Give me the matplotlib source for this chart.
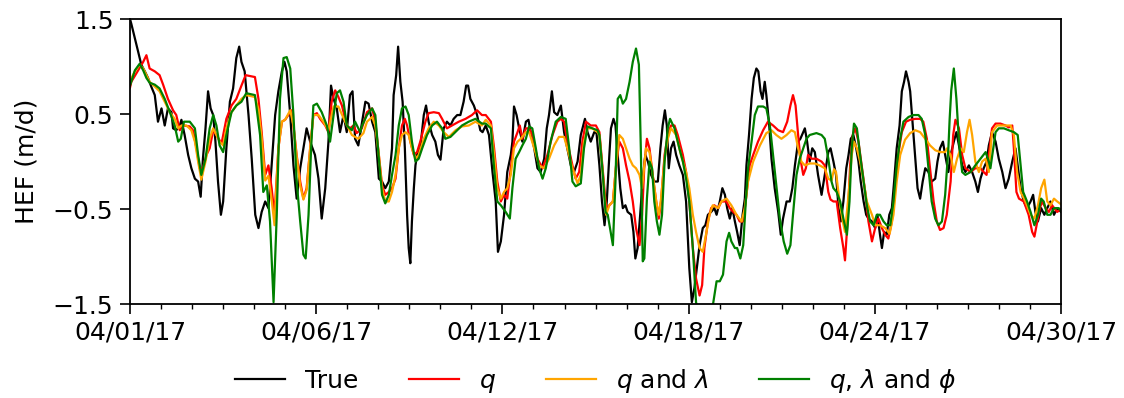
import pandas as pd
import matplotlib
matplotlib.use('Agg')
import matplotlib.pyplot as plt
import matplotlib.dates as mdates

# hourly HEF, true vs. three model variants (days since 04/01/17, value in m/d)
true_pts = [(0.00, 1.50), (0.04, 1.45), (0.15, 1.30), (0.25, 1.16), (0.35, 1.02), (0.46, 0.95), (0.56, 0.88),
            (0.66, 0.79), (0.77, 0.70), (0.87, 0.42), (0.98, 0.56), (1.08, 0.38), (1.18, 0.56), (1.29, 0.52),
            (1.34, 0.35), (1.44, 0.33), (1.55, 0.38), (1.60, 0.44), (1.70, 0.28), (1.81, 0.07), (1.91, -0.07),
            (2.02, -0.18), (2.12, -0.21), (2.20, -0.37), (2.27, 0.03), (2.35, 0.35), (2.43, 0.74), (2.51, 0.56),
            (2.59, 0.49), (2.66, 0.21), (2.74, -0.21), (2.83, -0.56), (2.90, -0.42), (3.00, 0.14), (3.11, 0.63),
            (3.21, 0.77), (3.31, 1.09), (3.40, 1.21), (3.47, 1.05), (3.57, 0.95), (3.69, 0.49), (3.79, 0.03),
            (3.90, -0.56), (4.00, -0.70), (4.10, -0.53), (4.21, -0.42), (4.31, -0.49), (4.41, -0.04), (4.52, 0.49),
            (4.62, 0.74), (4.73, 0.95), (4.81, 1.05), (4.88, 0.95), (4.99, 0.49), (5.09, -0.04), (5.19, -0.39),
            (5.30, -0.07), (5.40, 0.14), (5.50, 0.35), (5.61, 0.21), (5.76, 0.07), (5.87, -0.18), (5.97, -0.60),
            (6.08, -0.28), (6.18, 0.21), (6.26, 0.80), (6.34, 0.66), (6.44, 0.56), (6.54, 0.31), (6.65, 0.49),
            (6.75, 0.31), (6.85, 0.70), (6.93, 0.74), (7.01, 0.24), (7.11, 0.17), (7.22, 0.40), (7.33, 0.63),
            (7.43, 0.61), (7.54, 0.42), (7.64, 0.31), (7.75, -0.18), (7.85, -0.21), (7.95, -0.28), (8.06, -0.21),
            (8.16, 0.14), (8.21, 0.70), (8.29, 0.91), (8.35, 1.21), (8.42, 0.84), (8.49, 0.63), (8.56, 0.14),
            (8.63, -0.56), (8.68, -0.91), (8.73, -1.07), (8.78, -0.63), (8.84, -0.28), (8.89, -0.04), (8.94, 0.07),
            (9.04, 0.14), (9.15, 0.49), (9.22, 0.59), (9.30, 0.42), (9.41, 0.28), (9.51, 0.21), (9.59, 0.07),
            (9.67, 0.02), (9.77, 0.35), (9.87, 0.42), (9.98, 0.38), (10.08, 0.45), (10.19, 0.49), (10.29, 0.49),
            (10.39, 0.63), (10.47, 0.80), (10.53, 0.80), (10.60, 0.66), (10.71, 0.59), (10.81, 0.49), (10.91, 0.33),
            (10.98, 0.31), (11.08, 0.38), (11.18, 0.28), (11.29, -0.11), (11.39, -0.42), (11.46, -0.95),
            (11.55, -0.84), (11.65, -0.56), (11.75, -0.11), (11.86, 0.07), (11.91, 0.21), (11.96, 0.58),
            (12.04, 0.49), (12.12, 0.35), (12.22, 0.21), (12.33, 0.42), (12.41, 0.44), (12.48, 0.31), (12.59, 0.14),
            (12.69, -0.07), (12.79, -0.11), (12.90, 0.03), (12.98, 0.35), (13.05, 0.49), (13.14, 0.74),
            (13.21, 0.52), (13.31, 0.49), (13.42, 0.59), (13.52, 0.31), (13.62, 0.14), (13.73, -0.04),
            (13.83, -0.11), (13.94, 0.00), (14.04, 0.28), (14.17, 0.45), (14.25, 0.31), (14.35, 0.21),
            (14.46, 0.31), (14.53, 0.30), (14.62, -0.04), (14.70, -0.42), (14.78, -0.67), (14.85, -0.42),
            (14.93, 0.07), (14.98, 0.35), (15.06, 0.45), (15.12, 0.38), (15.19, 0.07), (15.27, -0.28),
            (15.35, -0.49), (15.43, -0.46), (15.50, -0.53), (15.61, -0.56), (15.68, -0.74), (15.74, -1.02),
            (15.81, -0.91), (15.89, -0.56), (15.97, -0.18), (16.05, 0.07), (16.13, 0.00), (16.23, -0.14),
            (16.33, -0.21), (16.44, -0.21), (16.52, 0.14), (16.59, 0.38), (16.66, 0.54), (16.72, 0.38),
            (16.78, -0.07), (16.85, 0.14), (16.93, 0.21), (17.01, 0.07), (17.11, -0.04), (17.22, -0.14),
            (17.32, -0.42), (17.42, -1.12), (17.50, -1.48), (17.58, -1.33), (17.63, -1.19), (17.74, -0.88),
            (17.84, -0.70), (17.92, -0.67), (18.00, -0.56), (18.10, -0.53), (18.20, -0.49), (18.27, -0.56),
            (18.37, -0.42), (18.45, -0.28), (18.53, -0.35), (18.60, -0.49), (18.68, -0.60), (18.76, -0.49),
            (18.84, -0.63), (18.91, -0.74), (18.99, -0.88), (19.08, -0.56), (19.15, -0.39), (19.20, -0.04),
            (19.28, 0.28), (19.36, 0.66), (19.43, 0.88), (19.51, 0.98), (19.57, 0.95), (19.64, 0.74),
            (19.70, 0.66), (19.77, 0.84), (19.82, 0.70), (19.91, 0.38), (19.98, 0.03), (20.08, -0.28),
            (20.19, -0.53), (20.27, -0.77), (20.34, -0.60), (20.45, -0.42), (20.55, -0.42), (20.63, -0.28),
            (20.71, -0.04), (20.81, 0.21), (20.88, 0.24), (20.97, 0.31), (21.02, 0.35), (21.09, 0.21),
            (21.17, 0.00), (21.25, 0.14), (21.33, 0.10), (21.43, -0.14), (21.54, -0.35), (21.64, -0.14),
            (21.75, 0.10), (21.82, 0.14), (21.91, 0.00), (21.99, -0.14), (22.07, -0.49), (22.14, -0.63),
            (22.22, -0.42), (22.31, -0.07), (22.38, 0.07), (22.45, 0.24), (22.53, 0.28), (22.62, 0.14),
            (22.69, 0.00), (22.76, -0.21), (22.85, -0.42), (22.93, -0.56), (23.00, -0.60), (23.11, -0.63),
            (23.21, -0.70), (23.28, -0.56), (23.36, -0.77), (23.42, -0.91), (23.49, -0.74), (23.57, -0.77),
            (23.65, -0.56), (23.73, -0.49), (23.80, -0.21), (23.88, 0.14), (23.97, 0.38), (24.04, 0.74),
            (24.11, 0.84), (24.17, 0.95), (24.25, 0.84), (24.30, 0.74), (24.38, 0.38), (24.46, 0.03),
            (24.53, -0.28), (24.61, -0.39), (24.69, -0.21), (24.77, -0.07), (24.87, -0.11), (24.97, -0.21),
            (25.08, -0.18), (25.15, 0.00), (25.23, 0.14), (25.32, 0.21), (25.39, 0.07), (25.49, -0.11),
            (25.56, 0.07), (25.66, 0.21), (25.74, 0.31), (25.82, 0.17), (25.92, -0.04), (26.02, -0.11),
            (26.13, -0.04), (26.23, -0.11), (26.33, -0.21), (26.41, -0.32), (26.49, -0.18), (26.59, -0.07),
            (26.68, 0.00), (26.75, 0.17), (26.85, 0.31), (26.96, 0.21), (27.06, 0.03), (27.17, -0.11),
            (27.27, -0.28), (27.37, -0.18), (27.48, 0.00), (27.58, 0.14), (27.65, -0.04), (27.74, -0.28),
            (27.84, -0.42), (27.94, -0.49), (28.05, -0.42), (28.13, -0.35), (28.20, -0.53), (28.28, -0.63),
            (28.38, -0.49), (28.48, -0.56), (28.57, -0.49), (28.67, -0.42), (28.78, -0.56), (28.88, -0.49),
            (29.00, -0.53)]

q_pts = [(0.00, 0.78), (0.04, 0.84), (0.25, 0.96), (0.41, 1.05), (0.51, 1.12), (0.61, 0.98), (0.77, 0.95),
         (0.92, 0.91), (1.03, 0.81), (1.18, 0.66), (1.34, 0.54), (1.44, 0.49), (1.55, 0.33), (1.65, 0.38),
         (1.86, 0.37), (1.96, 0.33), (2.07, 0.14), (2.17, -0.07), (2.27, -0.07), (2.38, 0.07), (2.48, 0.14),
         (2.59, 0.33), (2.69, 0.28), (2.85, 0.19), (3.00, 0.45), (3.16, 0.59), (3.31, 0.66), (3.47, 0.80),
         (3.60, 0.91), (3.89, 0.89), (4.00, 0.66), (4.10, 0.31), (4.21, -0.14), (4.31, -0.04), (4.41, -0.28),
         (4.50, -0.56), (4.62, 0.14), (4.73, 0.42), (4.83, 0.44), (4.93, 0.49), (5.02, 0.54), (5.09, 0.38),
         (5.19, 0.07), (5.30, -0.21), (5.40, -0.39), (5.50, -0.28), (5.61, 0.14), (5.71, 0.49), (5.82, 0.51),
         (5.92, 0.45), (6.08, 0.38), (6.18, 0.31), (6.28, 0.63), (6.39, 0.75), (6.49, 0.68), (6.60, 0.59),
         (6.75, 0.38), (6.85, 0.35), (6.96, 0.38), (7.06, 0.30), (7.22, 0.35), (7.38, 0.52), (7.54, 0.56),
         (7.64, 0.42), (7.75, 0.07), (7.85, -0.25), (7.95, -0.35), (8.06, -0.32), (8.16, -0.28), (8.27, -0.18),
         (8.37, 0.14), (8.47, 0.38), (8.56, 0.45), (8.63, 0.38), (8.73, 0.21), (8.84, 0.07), (8.94, 0.10),
         (9.04, 0.21), (9.20, 0.42), (9.30, 0.51), (9.46, 0.52), (9.62, 0.51), (9.72, 0.45), (9.87, 0.35),
         (10.03, 0.38), (10.24, 0.42), (10.45, 0.45), (10.65, 0.49), (10.81, 0.54), (10.96, 0.49), (11.08, 0.49),
         (11.24, 0.42), (11.34, 0.14), (11.44, -0.21), (11.55, -0.42), (11.65, -0.35), (11.75, -0.39),
         (11.86, -0.07), (11.96, 0.21), (12.07, 0.31), (12.14, 0.38), (12.22, 0.24), (12.33, 0.35), (12.43, 0.35),
         (12.53, 0.28), (12.69, 0.03), (12.85, -0.07), (13.00, 0.07), (13.16, 0.28), (13.31, 0.42), (13.42, 0.45),
         (13.52, 0.42), (13.62, 0.21), (13.78, -0.04), (13.88, -0.18), (13.99, -0.11), (14.09, 0.21),
         (14.20, 0.42), (14.35, 0.38), (14.51, 0.38), (14.62, 0.31), (14.72, -0.07), (14.83, -0.49),
         (14.93, -0.46), (15.04, -0.42), (15.14, -0.04), (15.24, 0.21), (15.35, 0.14), (15.45, -0.04),
         (15.56, -0.21), (15.66, -0.42), (15.76, -0.70), (15.87, -0.88), (15.95, -0.56), (16.02, -0.04),
         (16.10, 0.24), (16.18, 0.14), (16.28, -0.14), (16.39, -0.42), (16.47, -0.60), (16.54, -0.42),
         (16.65, 0.07), (16.75, 0.28), (16.85, 0.38), (16.96, 0.38), (17.06, 0.28), (17.22, 0.07),
         (17.32, -0.11), (17.42, -0.42), (17.53, -0.91), (17.63, -1.23), (17.74, -1.41), (17.82, -1.30),
         (17.89, -0.91), (18.00, -0.63), (18.10, -0.49), (18.20, -0.46), (18.32, -0.49), (18.42, -0.42),
         (18.58, -0.42), (18.68, -0.49), (18.79, -0.53), (18.89, -0.56), (18.99, -0.63), (19.10, -0.63),
         (19.20, -0.35), (19.30, -0.04), (19.41, 0.07), (19.56, 0.21), (19.72, 0.33), (19.87, 0.42),
         (20.03, 0.38), (20.19, 0.33), (20.34, 0.31), (20.47, 0.42), (20.57, 0.59), (20.65, 0.70), (20.73, 0.59),
         (20.81, 0.28), (20.88, 0.03), (20.97, -0.14), (21.05, -0.07), (21.12, 0.07), (21.23, 0.03),
         (21.38, 0.03), (21.54, 0.00), (21.64, -0.04), (21.75, -0.32), (21.82, -0.40), (21.91, -0.42),
         (22.01, -0.42), (22.12, -0.70), (22.22, -0.91), (22.27, -1.04), (22.35, -0.63), (22.43, -0.04),
         (22.51, 0.28), (22.59, 0.35), (22.69, 0.21), (22.79, -0.04), (22.90, -0.32), (23.00, -0.63),
         (23.11, -0.84), (23.21, -0.70), (23.31, -0.60), (23.42, -0.70), (23.52, -0.77), (23.62, -0.81),
         (23.73, -0.63), (23.83, -0.28), (23.94, 0.10), (24.04, 0.31), (24.17, 0.42), (24.30, 0.44),
         (24.46, 0.45), (24.61, 0.45), (24.71, 0.42), (24.82, 0.24), (24.92, -0.07), (25.03, -0.42),
         (25.13, -0.63), (25.23, -0.72), (25.34, -0.70), (25.44, -0.56), (25.56, -0.21), (25.64, 0.28),
         (25.71, 0.44), (25.82, 0.35), (25.92, 0.07), (26.02, -0.07), (26.18, -0.11), (26.33, -0.07),
         (26.49, -0.07), (26.59, -0.11), (26.68, -0.14), (26.75, 0.07), (26.85, 0.35), (26.96, 0.40),
         (27.11, 0.40), (27.27, 0.38), (27.37, 0.36), (27.48, 0.38), (27.53, 0.14), (27.61, -0.32),
         (27.69, -0.39), (27.84, -0.42), (27.99, -0.56), (28.10, -0.74), (28.17, -0.79), (28.26, -0.63),
         (28.34, -0.49), (28.41, -0.42), (28.52, -0.49), (28.62, -0.53), (28.72, -0.46), (28.88, -0.53),
         (29.00, -0.50)]

q_lam_pts = [(0.00, 0.85), (0.15, 0.95), (0.30, 1.02), (0.41, 0.98), (0.51, 0.91), (0.61, 0.84), (0.77, 0.79),
             (0.92, 0.74), (1.08, 0.63), (1.24, 0.52), (1.39, 0.45), (1.50, 0.35), (1.60, 0.38), (1.76, 0.38),
             (1.91, 0.33), (2.02, 0.21), (2.12, 0.00), (2.22, -0.19), (2.35, 0.00), (2.48, 0.24), (2.59, 0.35),
             (2.69, 0.28), (2.79, 0.21), (2.90, 0.17), (3.00, 0.35), (3.16, 0.52), (3.31, 0.59), (3.47, 0.66),
             (3.62, 0.70), (3.89, 0.68), (4.00, 0.55), (4.10, 0.25), (4.21, -0.20), (4.31, -0.15), (4.41, -0.40),
             (4.50, -0.67), (4.62, 0.14), (4.73, 0.42), (4.83, 0.44), (4.99, 0.54), (5.09, 0.38), (5.19, 0.05),
             (5.30, -0.25), (5.40, -0.40), (5.50, -0.30), (5.61, 0.14), (5.71, 0.49), (5.87, 0.49), (6.02, 0.42),
             (6.18, 0.33), (6.34, 0.58), (6.49, 0.58), (6.70, 0.42), (6.91, 0.28), (7.11, 0.24), (7.27, 0.30),
             (7.38, 0.42), (7.54, 0.47), (7.64, 0.38), (7.75, 0.07), (7.85, -0.28), (7.95, -0.42), (8.06, -0.42),
             (8.16, -0.32), (8.27, -0.14), (8.37, 0.14), (8.47, 0.28), (8.58, 0.31), (8.68, 0.28), (8.78, 0.14),
             (8.89, 0.03), (8.99, 0.07), (9.15, 0.24), (9.30, 0.35), (9.46, 0.42), (9.62, 0.38), (9.77, 0.31),
             (9.93, 0.26), (10.14, 0.33), (10.34, 0.37), (10.55, 0.38), (10.76, 0.42), (10.96, 0.38),
             (11.08, 0.44), (11.24, 0.38), (11.34, 0.07), (11.44, -0.28), (11.55, -0.39), (11.65, -0.32),
             (11.75, -0.28), (11.86, -0.14), (11.96, 0.14), (12.07, 0.21), (12.17, 0.24), (12.33, 0.31),
             (12.43, 0.31), (12.59, 0.14), (12.74, -0.04), (12.90, -0.07), (13.05, 0.03), (13.21, 0.17),
             (13.36, 0.26), (13.52, 0.26), (13.62, 0.14), (13.78, -0.07), (13.94, -0.23), (14.04, -0.14),
             (14.14, 0.21), (14.25, 0.35), (14.40, 0.35), (14.56, 0.31), (14.62, 0.28), (14.72, -0.11),
             (14.83, -0.56), (14.93, -0.46), (15.04, -0.42), (15.14, -0.04), (15.24, 0.28), (15.35, 0.24),
             (15.45, 0.14), (15.56, 0.03), (15.66, -0.04), (15.76, -0.07), (15.87, -0.14), (15.95, -0.28),
             (16.02, -0.04), (16.07, 0.14), (16.18, 0.10), (16.28, -0.14), (16.39, -0.42), (16.47, -0.56),
             (16.54, -0.39), (16.65, 0.03), (16.75, 0.24), (16.85, 0.35), (17.01, 0.28), (17.16, 0.07),
             (17.32, -0.11), (17.42, -0.28), (17.53, -0.56), (17.63, -0.74), (17.74, -0.91), (17.84, -0.95),
             (17.94, -0.77), (18.05, -0.56), (18.15, -0.46), (18.32, -0.49), (18.42, -0.42), (18.58, -0.39),
             (18.73, -0.46), (18.89, -0.56), (19.05, -0.63), (19.15, -0.49), (19.25, -0.21), (19.41, 0.00),
             (19.62, 0.17), (19.82, 0.30), (19.98, 0.33), (20.13, 0.28), (20.29, 0.24), (20.45, 0.28),
             (20.60, 0.33), (20.71, 0.31), (20.81, 0.14), (20.91, 0.00), (21.02, -0.04), (21.17, -0.02),
             (21.33, -0.02), (21.48, -0.04), (21.64, -0.07), (21.75, -0.18), (21.85, -0.20), (21.93, -0.08),
             (21.99, -0.11), (22.10, -0.42), (22.20, -0.63), (22.27, -0.74), (22.38, -0.35), (22.48, 0.07),
             (22.55, 0.21), (22.64, 0.14), (22.74, 0.00), (22.85, -0.21), (22.95, -0.42), (23.11, -0.56),
             (23.21, -0.67), (23.36, -0.67), (23.52, -0.70), (23.66, -0.76), (23.78, -0.56), (23.88, -0.21),
             (23.99, 0.07), (24.14, 0.23), (24.30, 0.30), (24.46, 0.33), (24.61, 0.31), (24.77, 0.24),
             (24.92, 0.17), (25.08, 0.12), (25.23, 0.10), (25.39, 0.10), (25.45, 0.14), (25.56, 0.07),
             (25.66, -0.11), (25.76, 0.03), (25.87, 0.14), (25.97, 0.10), (26.07, 0.31), (26.15, 0.44),
             (26.23, 0.28), (26.33, 0.00), (26.44, -0.11), (26.54, 0.00), (26.65, 0.03), (26.75, -0.11),
             (26.85, 0.31), (27.01, 0.38), (27.22, 0.38), (27.43, 0.38), (27.53, 0.28), (27.63, -0.11),
             (27.74, -0.32), (27.89, -0.42), (28.05, -0.56), (28.17, -0.60), (28.28, -0.46), (28.38, -0.28),
             (28.48, -0.19), (28.57, -0.42), (28.67, -0.46), (28.78, -0.39), (28.88, -0.42), (29.00, -0.45)]

q_lam_phi_pts = [(0.00, 0.80), (0.15, 0.96), (0.30, 1.03), (0.41, 0.96), (0.51, 0.88), (0.61, 0.83), (0.77, 0.81),
                 (0.92, 0.77), (1.08, 0.66), (1.24, 0.52), (1.39, 0.38), (1.50, 0.21), (1.58, 0.24), (1.68, 0.42),
                 (1.86, 0.42), (2.02, 0.35), (2.12, 0.07), (2.22, -0.14), (2.35, 0.03), (2.48, 0.35), (2.59, 0.49),
                 (2.69, 0.38), (2.79, 0.17), (2.90, 0.10), (3.00, 0.28), (3.16, 0.52), (3.31, 0.59), (3.47, 0.63),
                 (3.62, 0.72), (3.89, 0.70), (4.05, 0.28), (4.15, -0.32), (4.26, -0.25), (4.36, -0.63),
                 (4.47, -1.48), (4.57, -0.56), (4.67, 0.66), (4.78, 1.09), (4.88, 1.10), (4.99, 0.98), (5.09, 0.49),
                 (5.19, -0.21), (5.30, -0.63), (5.40, -0.98), (5.47, -1.02), (5.56, -0.56), (5.64, 0.14),
                 (5.71, 0.59), (5.82, 0.61), (5.97, 0.52), (6.13, 0.38), (6.23, 0.21), (6.34, 0.49), (6.44, 0.72),
                 (6.54, 0.75), (6.65, 0.63), (6.75, 0.38), (6.91, 0.33), (7.01, 0.42), (7.17, 0.31), (7.23, 0.38),
                 (7.38, 0.49), (7.54, 0.56), (7.64, 0.49), (7.75, 0.03), (7.85, -0.35), (7.95, -0.44),
                 (8.06, -0.35), (8.16, -0.14), (8.27, 0.07), (8.37, 0.38), (8.47, 0.56), (8.58, 0.58), (8.68, 0.49),
                 (8.78, 0.21), (8.89, 0.00), (8.99, 0.03), (9.10, 0.14), (9.25, 0.28), (9.41, 0.38), (9.56, 0.42),
                 (9.72, 0.35), (9.82, 0.24), (9.98, 0.26), (10.13, 0.31), (10.34, 0.38), (10.55, 0.42),
                 (10.76, 0.45), (10.96, 0.40), (11.08, 0.40), (11.24, 0.35), (11.34, -0.07), (11.44, -0.42),
                 (11.55, -0.46), (11.70, -0.53), (11.83, -0.60), (11.91, -0.28), (12.01, 0.03), (12.12, 0.10),
                 (12.22, 0.17), (12.33, 0.24), (12.43, 0.37), (12.53, 0.35), (12.64, 0.14), (12.74, -0.07),
                 (12.85, -0.18), (12.95, -0.07), (13.10, 0.21), (13.26, 0.42), (13.42, 0.47), (13.57, 0.45),
                 (13.68, 0.14), (13.78, -0.21), (13.88, -0.26), (14.04, -0.23), (14.14, 0.14), (14.25, 0.37),
                 (14.40, 0.35), (14.56, 0.33), (14.62, 0.28), (14.72, -0.11), (14.81, -0.53), (14.88, -0.56),
                 (14.95, -0.70), (15.04, -0.88), (15.12, -0.21), (15.19, 0.66), (15.27, 0.70), (15.35, 0.61),
                 (15.45, 0.66), (15.56, 0.84), (15.66, 1.05), (15.76, 1.19), (15.85, 1.02), (15.91, 0.14),
                 (15.97, -1.05), (16.02, -1.02), (16.10, -0.39), (16.18, 0.00), (16.26, -0.07), (16.33, -0.42),
                 (16.41, -0.63), (16.49, -0.77), (16.57, -0.56), (16.65, 0.00), (16.75, 0.35), (16.82, 0.45),
                 (16.96, 0.35), (17.11, 0.14), (17.22, 0.00), (17.32, -0.18), (17.42, -0.42), (17.53, -0.91),
                 (17.63, -1.48), (17.90, -1.95), (18.16, -1.50), (18.27, -1.26), (18.37, -1.26), (18.47, -1.19),
                 (18.58, -0.84), (18.66, -0.75), (18.73, -0.84), (18.84, -0.91), (18.91, -0.91), (19.01, -1.02),
                 (19.10, -0.88), (19.18, -0.42), (19.25, -0.07), (19.36, 0.21), (19.46, 0.49), (19.56, 0.58),
                 (19.72, 0.58), (19.82, 0.56), (19.93, 0.38), (20.03, 0.07), (20.14, -0.28), (20.24, -0.60),
                 (20.36, -0.84), (20.47, -0.97), (20.57, -0.88), (20.65, -0.56), (20.76, -0.14), (20.86, 0.03),
                 (20.97, 0.14), (21.07, 0.24), (21.17, 0.28), (21.38, 0.30), (21.54, 0.28), (21.64, 0.24),
                 (21.75, 0.03), (21.85, -0.21), (21.91, -0.28), (22.01, -0.32), (22.12, -0.42), (22.22, -0.60),
                 (22.33, -0.77), (22.41, -0.42), (22.48, 0.14), (22.55, 0.40), (22.64, 0.35), (22.74, 0.07),
                 (22.85, -0.21), (22.95, -0.46), (23.05, -0.63), (23.16, -0.67), (23.26, -0.56), (23.36, -0.56),
                 (23.47, -0.63), (23.57, -0.67), (23.68, -0.67), (23.78, -0.42), (23.88, -0.04), (23.99, 0.24),
                 (24.09, 0.42), (24.25, 0.47), (24.40, 0.49), (24.56, 0.49), (24.66, 0.45), (24.77, 0.28),
                 (24.87, -0.07), (24.97, -0.42), (25.08, -0.60), (25.18, -0.67), (25.29, -0.63), (25.39, -0.35),
                 (25.49, 0.14), (25.53, 0.45), (25.58, 0.75), (25.66, 0.98), (25.74, 0.66), (25.82, 0.21),
                 (25.92, -0.11), (26.02, -0.14), (26.18, -0.11), (26.33, -0.04), (26.49, 0.03), (26.65, 0.10),
                 (26.75, 0.00), (26.80, -0.07), (26.89, 0.14), (26.96, 0.31), (27.06, 0.35), (27.22, 0.35),
                 (27.37, 0.33), (27.53, 0.31), (27.65, 0.28), (27.74, -0.04), (27.82, -0.32), (27.94, -0.42),
                 (28.05, -0.53), (28.17, -0.67), (28.28, -0.56), (28.38, -0.39), (28.46, -0.42), (28.57, -0.56),
                 (28.67, -0.56), (28.78, -0.49), (28.93, -0.49), (29.00, -0.52)]

labels = ['True', '$q$', '$q$ and $\\lambda$', '$q$, $\\lambda$ and $\\phi$']
colors = ['black', 'red', 'orange', 'green']
start = pd.Timestamp('2017-04-01')
end = pd.Timestamp('2017-04-30')


def to_series(pts):
    days = [p[0] for p in pts]
    vals = [p[1] for p in pts]
    return start + pd.to_timedelta(days, unit='D'), vals


fig = plt.figure(figsize=(11.24, 3.98), dpi=100)
ax = fig.add_axes([0.1157, 0.236, 0.8283, 0.716])

for pts, lab, col in zip([true_pts, q_pts, q_lam_pts, q_lam_phi_pts], labels, colors):
    t, v = to_series(pts)
    ax.plot(t, v, color=col, linewidth=1.6, label=lab)

ax.set_xlim(start, end)
ax.set_ylim(-1.5, 1.5)
ax.set_yticks([-1.5, -0.5, 0.5, 1.5])
ax.set_xticks(pd.date_range(start, end, periods=6))
ax.set_xticks(pd.date_range(start, end, periods=31), minor=True)
ax.xaxis.set_major_formatter(mdates.DateFormatter('%m/%d/%y'))
ax.set_ylabel('HEF (m/d)', fontsize=18, labelpad=10)

ax.tick_params(axis='both', which='major', labelsize=18, length=7, width=1.2, pad=5)
ax.tick_params(axis='x', which='minor', length=3.5, width=1.0)
for s in ax.spines.values():
    s.set_linewidth(1.3)

ax.legend(loc='center', bbox_to_anchor=(0.5, -0.27), ncol=4, frameon=False, fontsize=18,
          handlelength=2.0, columnspacing=2.0)

fig.savefig('out.png', dpi=100)
